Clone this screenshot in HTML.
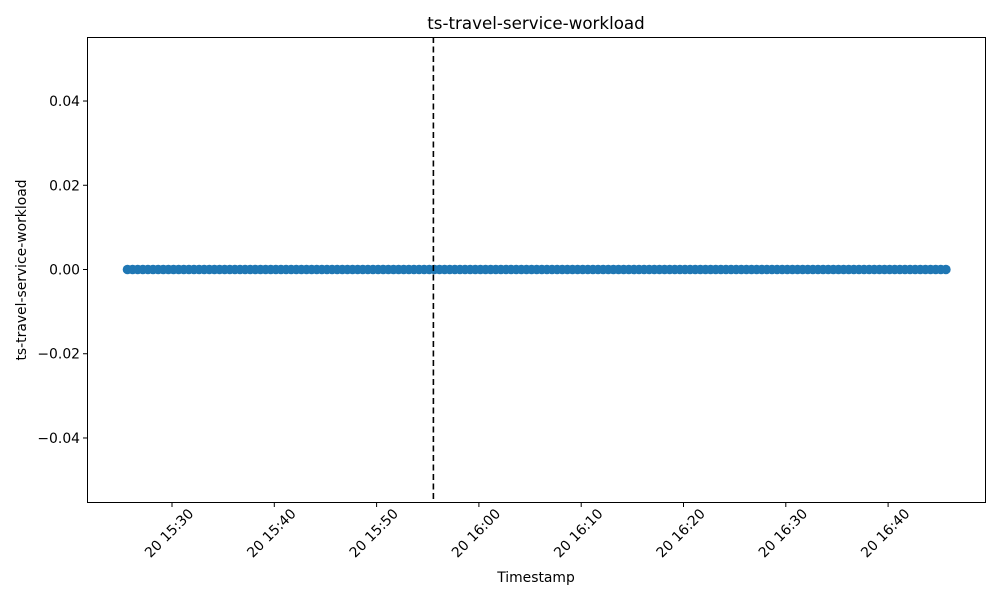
<!DOCTYPE html>
<html><head><meta charset="utf-8"><style>
body{margin:0;background:#fff}
svg{display:block;font-family:"DejaVu Sans","Liberation Sans",sans-serif}
</style></head><body>
<svg id="chart" width="1000" height="600">
<rect x="0" y="0" width="1000" height="600" fill="#fff"/>
<text x="536" y="29" font-size="16.7" text-anchor="middle">ts-travel-service-workload</text>
<g id="points"></g>
<line id="vline" stroke="#000" stroke-width="1.6" stroke-dasharray="6,3.5"/>
<rect x="87.5" y="37.5" width="898" height="465" fill="none" stroke="#000" stroke-width="1"/>
<g id="xticks"></g>
<g id="yticks"></g>
<text x="536" y="582" font-size="13.9" text-anchor="middle">Timestamp</text>
<text transform="translate(26,270) rotate(-90)" font-size="13.9" text-anchor="middle">ts-travel-service-workload</text>
</svg>
<script>
// minutes after 15:00 on day 20
const sampleStartMin = 25.6;
const sampleStepMin = 0.5;
const sampleValues = [0,0,0,0,0,0,0,0,0,0,0,0,0,0,0,0,0,0,0,0,0,0,0,0,0,0,0,0,0,0,0,0,0,0,0,0,0,0,0,0,0,0,0,0,0,0,0,0,0,0,0,0,0,0,0,0,0,0,0,0,0,0,0,0,0,0,0,0,0,0,0,0,0,0,0,0,0,0,0,0,0,0,0,0,0,0,0,0,0,0,0,0,0,0,0,0,0,0,0,0,0,0,0,0,0,0,0,0,0,0,0,0,0,0,0,0,0,0,0,0,0,0,0,0,0,0,0,0,0,0,0,0,0,0,0,0,0,0,0,0,0,0,0,0,0,0,0,0,0,0,0,0,0,0,0,0,0,0,0,0,0];
const xTickMins = [30,40,50,60,70,80,90,100];
const xTickLabels = ["20 15:30","20 15:40","20 15:50","20 16:00","20 16:10","20 16:20","20 16:30","20 16:40"];
const yTickVals = [-0.04,-0.02,0,0.02,0.04];
const yTickLabels = ["\u22120.04","\u22120.02","0.00","0.02","0.04"];
const markerMin = 55.6;

const NS="http://www.w3.org/2000/svg";
const xS = m => 172 + (m-30)*10.23;
const yS = v => 269.5 - v*4212;
function mk(tag,attrs,parent){const e=document.createElementNS(NS,tag);for(const k in attrs)e.setAttribute(k,attrs[k]);parent.appendChild(e);return e;}

const pts=document.getElementById('points');
sampleValues.forEach((v,i)=>{
  const c=mk('circle',{cx:xS(sampleStartMin+i*sampleStepMin)+0.5,cy:yS(v),r:4.8,fill:'#1f77b4'},pts);
  
  
});
const vl=document.getElementById('vline');
vl.setAttribute('x1',xS(markerMin)-0.5);vl.setAttribute('x2',xS(markerMin)-0.5);
vl.setAttribute('y1',37);vl.setAttribute('y2',502);

const xt=document.getElementById('xticks');
xTickMins.forEach((m,i)=>{
  const x=xS(m);
  mk('line',{x1:x,x2:x,y1:502.5,y2:507,stroke:'#000'},xt);
  const t=mk('text',{transform:`translate(${x-3},${533}) rotate(-45)`,'font-size':13.9,'text-anchor':'middle',dy:'0.35em'},xt);
  t.textContent=xTickLabels[i];
  
  
});
const yt=document.getElementById('yticks');
yTickVals.forEach((v,i)=>{
  const y=yS(v);
  mk('line',{x1:83,x2:87.5,y1:y,y2:y,stroke:'#000'},yt);
  const t=mk('text',{x:80,y:y+5,'font-size':13.9,'text-anchor':'end'},yt);
  t.textContent=yTickLabels[i];
  
  
});
</script>
</body></html>
